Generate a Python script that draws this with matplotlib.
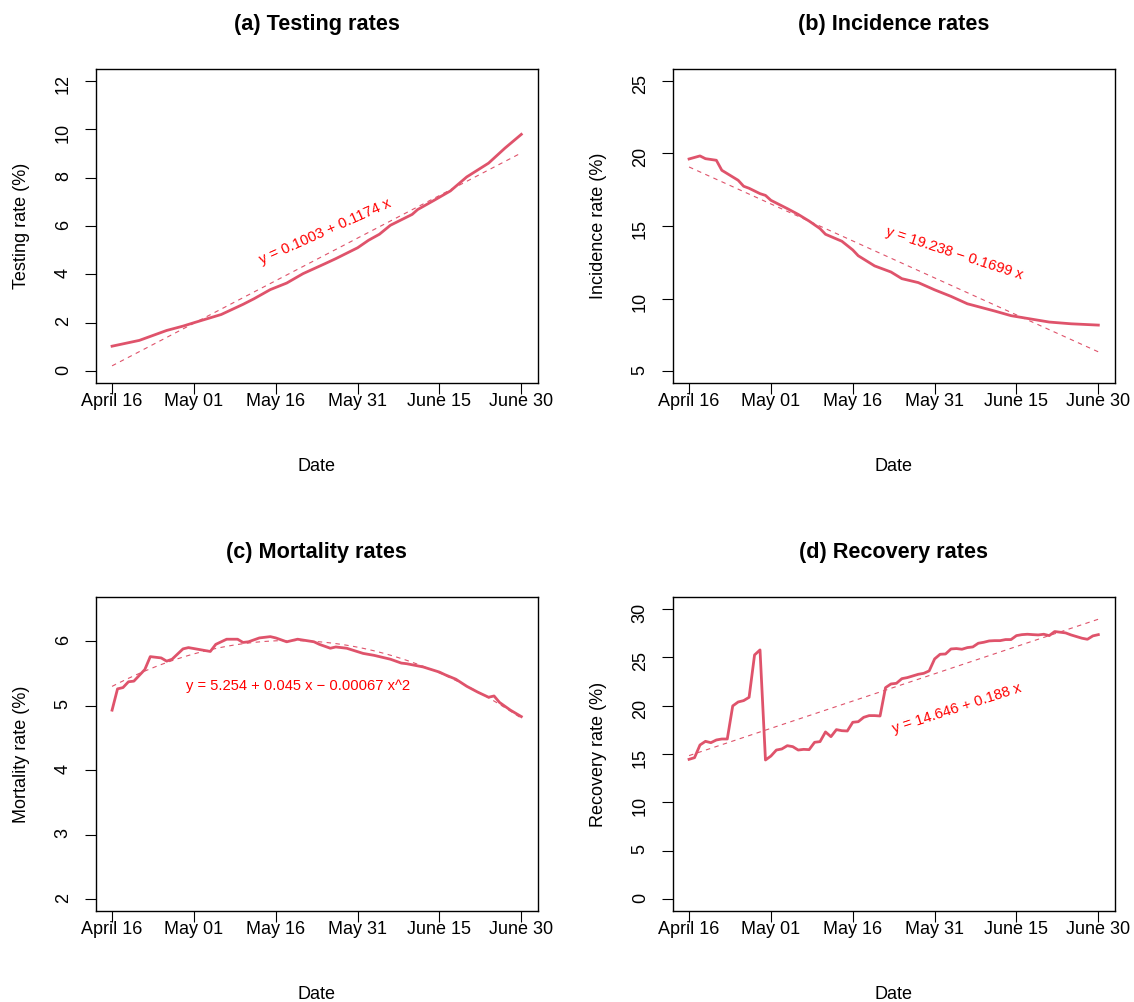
import numpy as np
import matplotlib
matplotlib.use("Agg")
import matplotlib.pyplot as plt

plt.rcParams['font.family'] = ['Liberation Sans', 'DejaVu Sans']

# day index 0 = April 16, last day = June 30
date_ticks = [0, 15, 30, 45, 60, 75]
date_labels = ['April 16', 'May 01', 'May 16', 'May 31', 'June 15', 'June 30']

testing_days = [0, 5, 10, 13, 15, 20, 24, 26, 29, 32, 35, 39, 41, 45, 47, 49,
                51, 55, 56, 59, 62, 65, 69, 72, 75]
testing = [1.03, 1.27, 1.68, 1.86, 2.00, 2.34, 2.76, 2.99, 3.37, 3.64, 4.03,
           4.44, 4.65, 5.10, 5.41, 5.66, 6.03, 6.48, 6.68, 7.06, 7.45, 8.03,
           8.60, 9.22, 9.79]

incidence_days = [0, 2, 3, 5, 6, 7, 9, 10, 11, 13, 14, 15, 18, 20, 22, 24, 25,
                  28, 30, 31, 34, 37, 39, 42, 45, 48, 51, 56, 59, 62, 66, 70, 75]
incidence = [19.62, 19.83, 19.64, 19.53, 18.84, 18.61, 18.15, 17.74, 17.60,
             17.23, 17.11, 16.77, 16.20, 15.80, 15.34, 14.82, 14.43, 13.95,
             13.35, 12.95, 12.25, 11.83, 11.37, 11.10, 10.60, 10.15, 9.64,
             9.14, 8.82, 8.63, 8.38, 8.26, 8.17]

mortality_days = [0, 1, 2, 3, 4, 6, 7, 9, 10, 11, 13, 14, 16, 18, 19, 21, 23,
                  24, 25, 27, 29, 30, 32, 34, 37, 38, 40, 41, 43, 46, 48, 51,
                  53, 54, 57, 60, 61, 63, 65, 67, 69, 70, 71, 73, 75]
mortality = [4.93, 5.26, 5.28, 5.37, 5.38, 5.56, 5.76, 5.74, 5.69, 5.72, 5.88,
             5.90, 5.87, 5.84, 5.95, 6.03, 6.03, 5.98, 5.99, 6.05, 6.07, 6.05,
             5.99, 6.03, 5.99, 5.95, 5.89, 5.91, 5.89, 5.81, 5.78, 5.72, 5.66,
             5.65, 5.60, 5.52, 5.48, 5.41, 5.30, 5.21, 5.13, 5.15, 5.05, 4.93,
             4.83]

recovery = [14.45, 14.62, 15.93, 16.31, 16.17, 16.45, 16.55, 16.55, 19.97,
            20.38, 20.52, 20.86, 25.24, 25.76, 14.38, 14.79, 15.41, 15.52,
            15.86, 15.76, 15.41, 15.48, 15.45, 16.21, 16.28, 17.28, 16.79,
            17.52, 17.41, 17.38, 18.28, 18.34, 18.79, 18.97, 18.97, 18.93,
            21.86, 22.24, 22.31, 22.79, 22.90, 23.07, 23.24, 23.34, 23.59,
            24.83, 25.31, 25.34, 25.86, 25.90, 25.83, 26.00, 26.07, 26.45,
            26.55, 26.69, 26.72, 26.72, 26.83, 26.83, 27.24, 27.34, 27.38,
            27.34, 27.31, 27.38, 27.24, 27.66, 27.59, 27.52, 27.31, 27.14,
            26.97, 26.86, 27.21, 27.34]
recovery_days = list(range(len(recovery)))

# fitted trends, x runs 1..76
x_fit = np.arange(1, 77)
fit_testing = 0.1003 + 0.1174 * x_fit
fit_incidence = 19.238 - 0.1699 * x_fit
fit_mortality = 5.254 + 0.045 * x_fit - 0.00067 * x_fit ** 2
fit_recovery = 14.646 + 0.188 * x_fit

line_col = '#DF536B'

panels = [
    ('(a) Testing rates', 'Testing rate (%)', testing_days, testing, fit_testing,
     (0, 12), np.arange(0, 13, 2), 'y = 0.1003 + 0.1174 x', (39, 5.75), 24),
    ('(b) Incidence rates', 'Incidence rate (%)', incidence_days, incidence,
     fit_incidence, (5, 25), np.arange(5, 26, 5), 'y = 19.238 \u2212 0.1699 x',
     (48.6, 13.09), -18),
    ('(c) Mortality rates', 'Mortality rate (%)', mortality_days, mortality,
     fit_mortality, (2, 6.5), np.arange(2, 7, 1),
     'y = 5.254 + 0.045 x \u2212 0.00067 x^2', (34, 5.31), 0),
    ('(d) Recovery rates', 'Recovery rate (%)', recovery_days, recovery,
     fit_recovery, (0, 30), np.arange(0, 31, 5), 'y = 14.646 + 0.188 x',
     (49, 19.72), 18),
]

W, H = 1134, 1002
fig = plt.figure(figsize=(W / 100, H / 100), dpi=100)
boxes = [(95.7, 69.3), (672.7, 69.3), (95.7, 597.3), (672.7, 597.3)]
bw, bh = 442.0, 313.4

for (left, top), p in zip(boxes, panels):
    title, ylab, xd, yd, fit, ylim, yt, eq, eqpos, eqrot = p
    ax = fig.add_axes([left / W, (H - top - bh) / H, bw / W, bh / H])
    ax.plot(xd, yd, color=line_col, lw=2.0, solid_joinstyle='round')
    ax.plot(x_fit - 1, fit, color=line_col, lw=0.8, linestyle=(0, (4, 4)))
    ax.text(eqpos[0], eqpos[1], eq, color='red', fontsize=10.6,
            rotation=eqrot, ha='center', va='center', rotation_mode='anchor')

    pad = 0.04 * 75
    ax.set_xlim(-pad, 75 + pad)
    r = ylim[1] - ylim[0]
    ax.set_ylim(ylim[0] - 0.04 * r, ylim[1] + 0.04 * r)
    ax.set_xticks(date_ticks)
    ax.set_xticklabels(date_labels)
    ax.set_yticks(yt)
    ax.set_yticklabels([f'{v:g}' for v in yt])
    ax.tick_params(axis='x', length=7.7, width=0.8, pad=-0.5, labelsize=13)
    ax.tick_params(axis='y', length=7.7, width=0.8, pad=9.5, labelsize=13,
                   labelrotation=90)
    for s in ax.spines.values():
        s.set_linewidth(1.0)

    ax.set_title(title, fontsize=15.6, fontweight='bold', pad=28.3)
    ax.set_xlabel('Date', fontsize=13)
    ax.set_ylabel(ylab, fontsize=13)
    ax.xaxis.set_label_coords(0.5, -0.241)
    ax.yaxis.set_label_coords(-0.149, 0.5)

fig.savefig('out.png', dpi=100)
